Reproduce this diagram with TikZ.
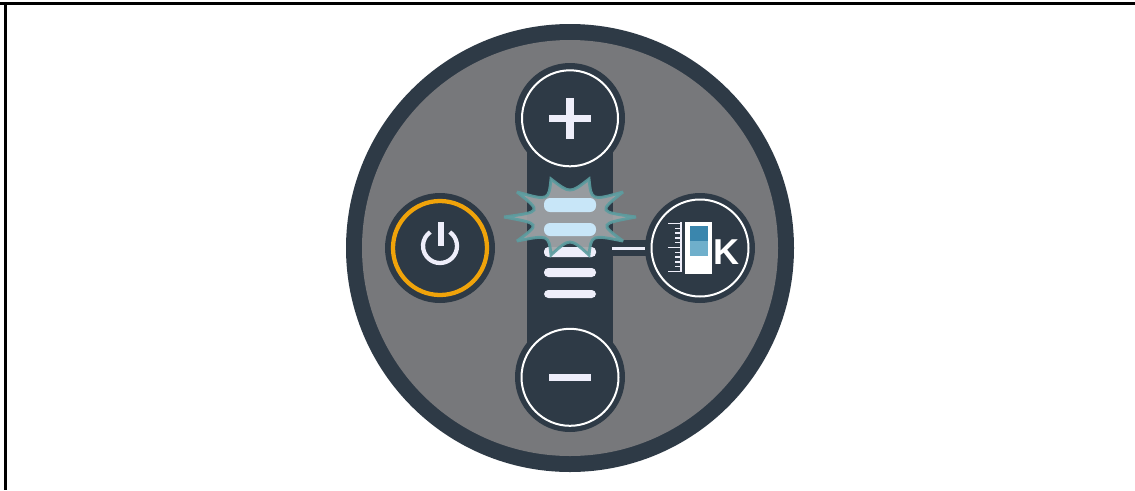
\documentclass[tikz,border=0pt]{standalone}
\usepackage{fontspec}
\setmainfont{Liberation Sans}
\definecolor{dark}{HTML}{2E3A46}
\definecolor{panel}{HTML}{77787B}
\definecolor{paleline}{HTML}{EEEEFA}
\definecolor{orangering}{HTML}{F0A30A}
\definecolor{glowblue}{HTML}{C8E6F8}
\definecolor{starfill}{HTML}{A0A3A6}
\definecolor{starline}{HTML}{5B9DA0}
\definecolor{deepblue}{HTML}{3A86AD}
\definecolor{softblue}{HTML}{6FAFCB}
\tikzset{
  button/.style={fill=dark},
  barpill/.style={fill=paleline,rounded corners=3.2pt},
  glowpill/.style={fill=glowblue,rounded corners=4.5pt},
  tick/.style={draw=paleline,line width=1.1pt},
  glyph/.style={fill=paleline}
}
\begin{document}
\begin{tikzpicture}[x=0.75pt,y=-0.75pt]
\useasboundingbox (0,0) rectangle (1135,490);
\fill[white] (0,0) rectangle (1135,490);
\fill[black] (0,2.3) rectangle (1135,5);
\fill[black] (4,2.3) rectangle (7,490);
% main disc
\fill[dark] (570,248) circle (224);
\fill[panel] (570,248) circle (208);
% slider track
\fill[dark] (527,118) rectangle (612.5,377);
\fill[dark] (612,240) rectangle (660,256);
\fill[paleline] (612,247) rectangle (648,249.5);
% buttons
\foreach \cx/\cy in {570/118,570/377,440/248,700/248}{
  \fill[button] (\cx,\cy) circle (55);
}
\draw[white,line width=1.5pt] (570,118.3) circle (48);
\draw[white,line width=1.5pt] (570,377.3) circle (48.5);
\draw[white,line width=1.5pt] (700,248) circle (48.5);
\draw[orangering,line width=3.2pt] (440,248) circle (47);
% plus, minus
\fill[glyph] (549.3,115) rectangle (590.7,122);
\fill[glyph] (566.3,97.7) rectangle (573.7,139);
\fill[glyph] (549.3,374) rectangle (590.7,381);
% power
\draw[paleline,line width=3.2pt] (440,246) ++(-55:17) arc[start angle=-55,end angle=235,radius=17];
\fill[glyph] (437.5,222) rectangle (443.5,246);
% level bars below the burst
\fill[barpill] (544,247) rectangle (596,257);
\fill[barpill] (544,268) rectangle (596,277);
\fill[barpill] (544,290) rectangle (596,298);
% burst
\draw[fill=starfill,fill opacity=.93,draw=starline,line width=2.2pt,line join=miter,miter limit=3,draw opacity=.9]
  (504,217) .. controls (541.8,211.8) .. (517,192)
  .. controls (548.7,200.8) .. (551,179)
  .. controls (570,193.7) .. (589,179)
  .. controls (591.3,200.8) .. (623,192)
  .. controls (598.2,211.8) .. (636,217)
  .. controls (599.5,223.7) .. (623,241)
  .. controls (591.3,234.7) .. (589,255)
  .. controls (570,237.7) .. (551,255)
  .. controls (548.7,234.7) .. (517,241)
  .. controls (540.5,223.7) .. cycle;
\fill[glowpill] (544,198) rectangle (596,212);
\fill[glowpill] (544,223) rectangle (596,236);
% colour temperature icon
\draw[tick] (681,222) -- (681,272);
\draw[tick] (668,223.5) -- (681,223.5);
\draw[tick] (668,247.5) -- (681,247.5);
\draw[tick] (668,271.5) -- (681,271.5);
\foreach \ty in {228.3,233.1,237.9,242.7,252.3,257.1,261.9,266.7}{
  \draw[tick] (675,\ty) -- (681,\ty);
}
\fill[white] (685,222) rectangle (712,274);
\fill[deepblue] (690,226) rectangle (708,241);
\fill[softblue] (690,241) rectangle (708,256);
\node[inner sep=0pt,text=white,font=\bfseries\fontsize{27}{27}\selectfont] (kelvin) at (726,252.5) {K};
\end{tikzpicture}
\end{document}
